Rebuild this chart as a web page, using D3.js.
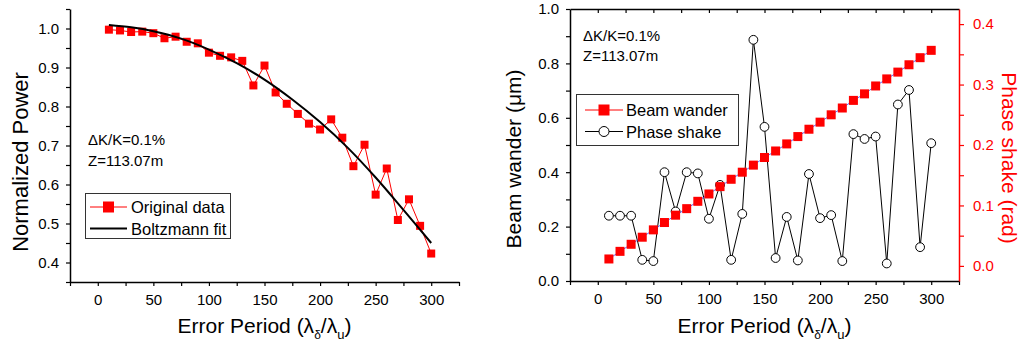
<!DOCTYPE html>
<html>
<head>
<meta charset="utf-8">
<script src="https://cdn.jsdelivr.net/npm/d3@7"></script>
<style>
  html, body { margin: 0; padding: 0; background: #fff; }
  svg { display: block; }
  text { font-family: "Liberation Sans", Arial, sans-serif; }
</style>
</head>
<body>
<svg id="chart" width="1031" height="355"></svg>
<script>
// ---------- DATA ----------
const errorPeriods = [10,20,30,40,50,60,70,80,90,100,110,120,130,140,150,160,170,180,190,200,210,220,230,240,250,260,270,280,290,300];
const normalizedPower = [0.997,0.995,0.991,0.992,0.988,0.975,0.979,0.966,0.962,0.938,0.930,0.926,0.917,0.854,0.905,0.836,0.807,0.781,0.756,0.741,0.767,0.720,0.647,0.702,0.574,0.641,0.509,0.562,0.494,0.423];
const fitPeriods = [10,30,50,75,100,125,150,175,200,225,250,275,300];
const fitPower = [1.009,1.003,0.993,0.974,0.946,0.911,0.869,0.818,0.760,0.694,0.618,0.535,0.450];
const beamWander = [0.081,0.109,0.135,0.161,0.188,0.215,0.242,0.266,0.293,0.320,0.347,0.374,0.400,0.426,0.454,0.478,0.504,0.531,0.558,0.584,0.611,0.636,0.664,0.688,0.717,0.743,0.768,0.795,0.821,0.848];
const phaseShake = [0.083,0.083,0.083,0.010,0.008,0.155,0.090,0.155,0.153,0.078,0.134,0.010,0.086,0.374,0.230,0.013,0.081,0.009,0.152,0.079,0.084,0.008,0.218,0.210,0.214,0.004,0.267,0.291,0.031,0.203];
const xTickValues = [-25,0,25,50,75,100,125,150,175,200,225,250,275,300,325];
const xTickLabels = [0,50,100,150,200,250,300];
const powerTicks = [0.35,0.4,0.45,0.5,0.55,0.6,0.65,0.7,0.75,0.8,0.85,0.9,0.95,1.0,1.05];
const powerLabels = [0.4,0.5,0.6,0.7,0.8,0.9,1.0];
const wanderTicks = [0,0.1,0.2,0.3,0.4,0.5,0.6,0.7,0.8,0.9,1.0];
const wanderLabels = [0,0.2,0.4,0.6,0.8,1.0];
const shakeTicks = [0,0.05,0.1,0.15,0.2,0.25,0.3,0.35,0.4];
const shakeLabels = [0,0.1,0.2,0.3,0.4];
const annotation = ["\u0394K/K=0.1%", "Z=113.07m"];
const leftLegend = ["Original data", "Boltzmann fit"];
const rightLegend = ["Beam wander", "Phase shake"];

// ---------- SETUP ----------
const RED = "#ff0000";
const svg = d3.select("#chart");
svg.append("rect").attr("width",1031).attr("height",355).attr("fill","#fff");

const near = (a, list) => list.some(v => Math.abs(v - a) < 1e-9);
const TICK_FS = 15;

function styleAxis(g, color) {
  g.selectAll("path.domain").attr("stroke", color).attr("stroke-width", 1.5);
  g.selectAll(".tick line").attr("stroke", color).attr("stroke-width", 1.2);
  g.selectAll(".tick text").attr("fill", color).attr("font-size", TICK_FS)
    .attr("font-family", "'Liberation Sans', Arial, sans-serif");
}

// ---------- LEFT PANEL ----------
const xL = d3.scaleLinear().domain([-25, 325]).range([70, 459]);
const yL = d3.scaleLinear().domain([0.35, 1.05]).range([282, 9]);
const L = svg.append("g");

const gxL = L.append("g").attr("transform", "translate(0,282)")
  .call(d3.axisBottom(xL).tickValues(xTickValues).tickSize(4).tickSizeOuter(0).tickPadding(8)
    .tickFormat(d => near(d, xTickLabels) ? d : ""));
styleAxis(gxL, "#000");
const gyL = L.append("g").attr("transform", "translate(70,0)")
  .call(d3.axisLeft(yL).tickValues(powerTicks).tickSize(4).tickSizeOuter(0).tickPadding(7)
    .tickFormat(d => near(d, powerLabels) ? d.toFixed(1) : ""));
styleAxis(gyL, "#000");

// data line + squares
L.append("path").datum(errorPeriods.map((x, i) => [x, normalizedPower[i]]))
  .attr("fill", "none").attr("stroke", RED).attr("stroke-width", 1)
  .attr("d", d3.line().x(d => xL(d[0])).y(d => yL(d[1])));
L.selectAll("rect.pt").data(errorPeriods).enter().append("rect")
  .attr("x", (d) => xL(d) - 4).attr("y", (d, i) => yL(normalizedPower[i]) - 4)
  .attr("width", 8).attr("height", 8).attr("fill", RED);
// fit
L.append("path").datum(fitPeriods.map((x, i) => [x, fitPower[i]]))
  .attr("fill", "none").attr("stroke", "#000").attr("stroke-width", 2)
  .attr("d", d3.line().curve(d3.curveCatmullRom).x(d => xL(d[0])).y(d => yL(d[1])));

// annotation
L.append("text").attr("x", 88).attr("y", 145).attr("font-size", 15).text(annotation[0]);
L.append("text").attr("x", 88).attr("y", 166).attr("font-size", 15).text(annotation[1]);

// legend
L.append("rect").attr("x", 85.5).attr("y", 193.5).attr("width", 145).attr("height", 45)
  .attr("fill", "#fff").attr("stroke", "#333").attr("stroke-width", 1);
L.append("line").attr("x1", 90).attr("x2", 127).attr("y1", 207).attr("y2", 207).attr("stroke", RED).attr("stroke-width", 1);
L.append("rect").attr("x", 103).attr("y", 201.5).attr("width", 11).attr("height", 11).attr("fill", RED);
L.append("line").attr("x1", 90).attr("x2", 127).attr("y1", 228.5).attr("y2", 228.5).attr("stroke", "#000").attr("stroke-width", 2);
L.append("text").attr("x", 131).attr("y", 213).attr("font-size", 16.5).text(leftLegend[0]);
L.append("text").attr("x", 131).attr("y", 234.5).attr("font-size", 16.5).text(leftLegend[1]);

// titles
L.append("text").attr("transform", "translate(28,162) rotate(-90)").attr("text-anchor", "middle")
  .attr("font-size", 22).text("Normalized Power");

function xTitle(g, cx) {
  const t = g.append("text").attr("x", cx).attr("y", 333).attr("text-anchor", "middle").attr("font-size", 21);
  t.append("tspan").text("Error Period (\u03bb");
  t.append("tspan").attr("dy", 6).attr("font-size", 12).text("\u03b4");
  t.append("tspan").attr("dy", -6).text("/\u03bb");
  t.append("tspan").attr("dy", 6).attr("font-size", 13).text("u");
  t.append("tspan").attr("dy", -6).text(")");
}
xTitle(L, 264.5);

// ---------- RIGHT PANEL ----------
const xR = d3.scaleLinear().domain([-25, 325]).range([570, 959]);
const yR = d3.scaleLinear().domain([0, 1]).range([281, 9]);
const yR2 = d3.scaleLinear().domain([-0.025, 0.425]).range([281, 9]);
const R = svg.append("g");

const gxR = R.append("g").attr("transform", "translate(0,281)")
  .call(d3.axisBottom(xR).tickValues(xTickValues).tickSize(4).tickSizeOuter(0).tickPadding(8)
    .tickFormat(d => near(d, xTickLabels) ? d : ""));
styleAxis(gxR, "#000");
const gtR = R.append("g").attr("transform", "translate(0,9)")
  .call(d3.axisTop(xR).tickValues(xTickValues.slice(1, -1)).tickSize(-4).tickSizeOuter(0).tickFormat(""));
styleAxis(gtR, "#000");
const gyR = R.append("g").attr("transform", "translate(570,0)")
  .call(d3.axisLeft(yR).tickValues(wanderTicks).tickSize(4).tickSizeOuter(0).tickPadding(7)
    .tickFormat(d => near(d, wanderLabels) ? d.toFixed(1) : ""));
styleAxis(gyR, "#000");
const gyR2 = R.append("g").attr("transform", "translate(959,0)")
  .call(d3.axisRight(yR2).tickValues(shakeTicks).tickSize(5).tickSizeOuter(0).tickPadding(9)
    .tickFormat(d => near(d, shakeLabels) ? d.toFixed(1) : ""));
styleAxis(gyR2, RED);

// phase shake (circles, right axis)
R.append("path").datum(errorPeriods.map((x, i) => [x, phaseShake[i]]))
  .attr("fill", "none").attr("stroke", "#000").attr("stroke-width", 1)
  .attr("d", d3.line().x(d => xR(d[0])).y(d => yR2(d[1])));
R.selectAll("circle.ps").data(errorPeriods).enter().append("circle")
  .attr("cx", d => xR(d)).attr("cy", (d, i) => yR2(phaseShake[i])).attr("r", 4.4)
  .attr("fill", "#fff").attr("stroke", "#000").attr("stroke-width", 1);

// beam wander (squares, left axis)
R.append("path").datum(errorPeriods.map((x, i) => [x, beamWander[i]]))
  .attr("fill", "none").attr("stroke", "#3344ff").attr("stroke-width", 0.8)
  .attr("d", d3.line().x(d => xR(d[0])).y(d => yR(d[1])));
R.selectAll("rect.bw").data(errorPeriods).enter().append("rect")
  .attr("x", d => xR(d) - 4.5).attr("y", (d, i) => yR(beamWander[i]) - 4.5)
  .attr("width", 9).attr("height", 9).attr("fill", RED);

// annotation
R.append("text").attr("x", 583).attr("y", 41).attr("font-size", 15).text(annotation[0]);
R.append("text").attr("x", 583).attr("y", 61).attr("font-size", 15).text(annotation[1]);

// legend
R.append("rect").attr("x", 576.5).attr("y", 94.5).attr("width", 162).attr("height", 51)
  .attr("fill", "#fff").attr("stroke", "#333").attr("stroke-width", 1);
R.append("line").attr("x1", 585).attr("x2", 623).attr("y1", 110).attr("y2", 110).attr("stroke", RED).attr("stroke-width", 1);
R.append("rect").attr("x", 598.5).attr("y", 104.5).attr("width", 11).attr("height", 11).attr("fill", RED);
R.append("line").attr("x1", 585).attr("x2", 623).attr("y1", 131.5).attr("y2", 131.5).attr("stroke", "#000").attr("stroke-width", 1);
R.append("circle").attr("cx", 604).attr("cy", 131.5).attr("r", 5).attr("fill", "#fff").attr("stroke", "#000").attr("stroke-width", 1);
R.append("text").attr("x", 626).attr("y", 116).attr("font-size", 16.5).text(rightLegend[0]);
R.append("text").attr("x", 626).attr("y", 137.5).attr("font-size", 16.5).text(rightLegend[1]);

// titles
R.append("text").attr("transform", "translate(521,159) rotate(-90)").attr("text-anchor", "middle")
  .attr("font-size", 21).text("Beam wander (\u03bcm)");
R.append("text").attr("transform", "translate(1002,158) rotate(90)").attr("text-anchor", "middle")
  .attr("font-size", 21).attr("fill", RED).text("Phase shake (rad)");
xTitle(R, 764.5);
</script>
</body>
</html>
